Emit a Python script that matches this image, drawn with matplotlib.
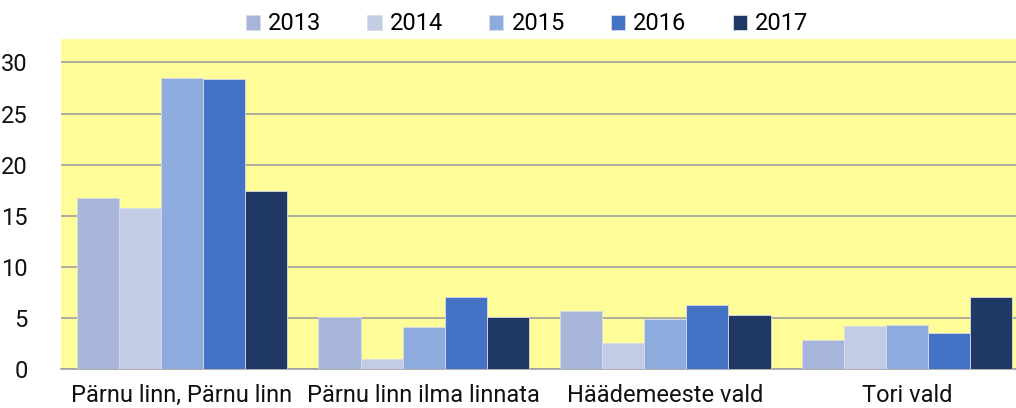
import matplotlib
matplotlib.use('Agg')
import matplotlib.pyplot as plt
import numpy as np

matplotlib.rcParams.update({'font.family': ['Roboto', 'DejaVu Sans'], 'font.size': 17})

categories = ['Pärnu linn, Pärnu linn', 'Pärnu linn ilma linnata', 'Häädemeeste vald', 'Tori vald']
years = ['2013', '2014', '2015', '2016', '2017']
v2013 = [16.75, 5.05, 5.7, 2.85]
v2014 = [15.8, 0.95, 2.55, 4.2]
v2015 = [28.5, 4.07, 4.87, 4.3]
v2016 = [28.4, 7.08, 6.3, 3.5]
v2017 = [17.4, 5.05, 5.3, 7.08]
series = [v2013, v2014, v2015, v2016, v2017]
colors = ['#A7B5DA', '#C2CCE4', '#8EABDD', '#4472C4', '#203864']

f = plt.figure(figsize=(10.16, 4.08), dpi=100)
ax = f.add_axes([61/1016, 39/408, 967/1016, 330/408])
ax.set_facecolor('#FFFD99')

x = np.arange(len(categories))
w = 0.174
for i, (vals, c) in enumerate(zip(series, colors)):
    ax.bar(x + (i - 2)*w, vals, w, color=c, edgecolor='#D8DCE8', linewidth=0.6,
           label=years[i], zorder=3)

ax.set_xlim(-0.5, 3.5)
ax.set_ylim(0, 32.3)
ax.set_yticks(range(0, 31, 5))
ax.yaxis.grid(True, color='#A0A0A0', linewidth=1.2, zorder=0)
ax.set_axisbelow(True)
for s in ['top', 'right', 'left']:
    ax.spines[s].set_visible(False)
ax.spines['bottom'].set_color('#A0A0A0')
ax.spines['bottom'].set_linewidth(1.2)
ax.tick_params(axis='both', length=0, labelsize=17, colors='#111111')
ax.tick_params(axis='y', pad=24)
ax.set_xticks(x)
ax.set_xticklabels(categories)
ax.tick_params(axis='x', pad=11)

ax.legend(loc='center', bbox_to_anchor=(466/967, (408 - 39 - 24)/330), ncol=5,
          frameon=False, handlelength=0.6, handleheight=0.6, handletextpad=0.35,
          columnspacing=1.95, fontsize=17, bbox_transform=ax.transAxes)

f.savefig('out.png', dpi=100)
